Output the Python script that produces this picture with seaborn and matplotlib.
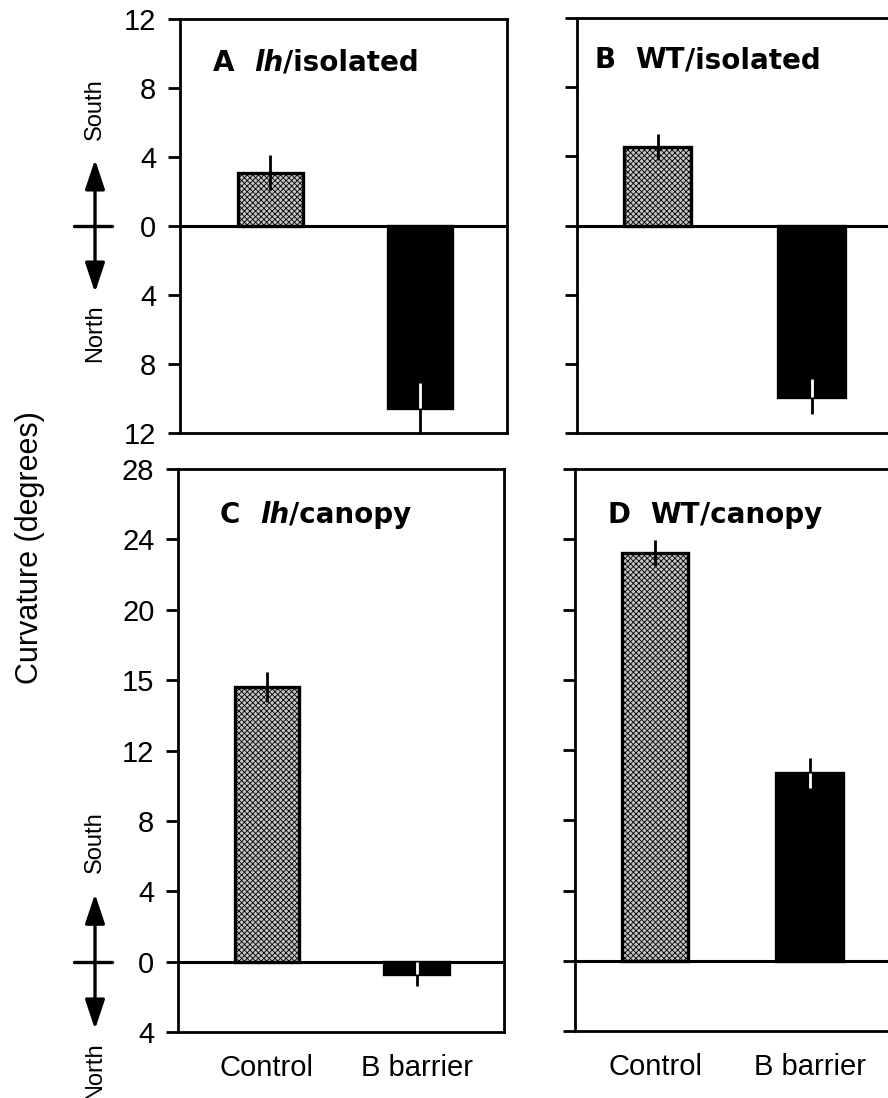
import numpy as np
import pandas as pd
import matplotlib
matplotlib.use("Agg")
import matplotlib.pyplot as plt
import matplotlib.transforms as mtransforms
import seaborn as sns

# ---------------- data ----------------
categories = ["Control", "B barrier"]
panel_letters = ["A", "B", "C", "D"]
panel_genotypes = ["lh", "WT", "lh", "WT"]
panel_italic = [True, False, True, False]
panel_conditions = ["/isolated", "/isolated", "/canopy", "/canopy"]

a_means = [3.1, -10.55]
a_errs = [1.0, 1.45]
b_means = [4.55, -9.9]
b_errs = [0.75, 1.0]
c_means = [15.6, -0.7]
c_errs = [0.85, 0.7]
d_means = [23.2, 10.7]
d_errs = [0.75, 0.85]

top_ticks = [-12, -8, -4, 0, 4, 8, 12]
top_ticklabels = ["12", "8", "4", "0", "4", "8", "12"]
bottom_ticks = [-4, 0, 4, 8, 12, 16, 20, 24, 28]
bottom_ticklabels = ["4", "0", "4", "8", "12", "15", "20", "24", "28"]

ylabel_text = "Curvature (degrees)"
south_label = "South"
north_label = "North"

# ---------------- style ----------------
sns.set_style("ticks")
plt.rcParams["font.family"] = ["Liberation Sans", "DejaVu Sans"]
plt.rcParams["hatch.linewidth"] = 0.6
plt.rcParams["axes.linewidth"] = 2.0
plt.rcParams["text.color"] = "black"
plt.rcParams["axes.labelcolor"] = "black"
plt.rcParams["xtick.color"] = "black"
plt.rcParams["ytick.color"] = "black"
plt.rcParams["axes.edgecolor"] = "black"

W, H = 888, 1098
fig = plt.figure(figsize=(W / 100, H / 100), dpi=100)
fig.patch.set_facecolor("white")


def pos(l, t, r, b):
    return [l / W, 1 - b / H, (r - l) / W, (b - t) / H]


axes_pos = [pos(180, 19, 507, 433), pos(577, 18, 904, 433),
            pos(178, 469, 504, 1032), pos(575, 469, 902, 1031)]
xlims = [(-0.605, 1.582), (-0.523, 1.60), (-0.595, 1.585), (-0.518, 1.598)]
title_xy = [(0.10, 0.86), (0.055, 0.865), (0.129, 0.893), (0.10, 0.893)]

means_list = [a_means, b_means, c_means, d_means]
errs_list = [a_errs, b_errs, c_errs, d_errs]

CTRL_COLOR = "#c4c4c4"

for i in range(4):
    ax = fig.add_axes(axes_pos[i])
    means = means_list[i]
    errs = errs_list[i]
    df = pd.DataFrame({"cat": categories, "val": means})
    sns.barplot(data=df, x="cat", y="val", hue="cat", order=categories,
                hue_order=categories, palette=[CTRL_COLOR, "black"],
                legend=False, width=0.43, edgecolor="black", linewidth=2.4,
                errorbar=None, ax=ax, zorder=2)
    # stipple on control bar
    ax.patches[0].set_hatch("xxxxxx")

    ax.axhline(0, color="black", lw=2.2, zorder=1)

    xs = np.arange(len(categories))
    ax.errorbar(xs, means, yerr=errs, fmt="none", ecolor="black",
                elinewidth=2.0, capsize=0, zorder=3)
    # white portion of the error line inside the black bar
    m = means[1]
    e = errs[1]
    ax.vlines(xs[1], m, m - np.sign(m) * e, color="white", lw=2.0, zorder=4)

    top_row = i < 2
    left_col = i % 2 == 0
    if top_row:
        ax.set_ylim(-12, 12)
        ax.set_yticks(top_ticks)
        ax.set_yticklabels(top_ticklabels)
    else:
        ax.set_ylim(-4, 28)
        ax.set_yticks(bottom_ticks)
        ax.set_yticklabels(bottom_ticklabels)
    ax.set_xlim(*xlims[i])

    for s in ax.spines.values():
        s.set_visible(True)
        s.set_linewidth(2.0)
        s.set_color("black")

    ax.tick_params(axis="y", direction="out", length=9, width=2.0, pad=8,
                   labelsize=21, labelleft=left_col, colors="black")
    ax.tick_params(axis="x", length=0, pad=16, labelsize=21,
                   labelbottom=not top_row, colors="black")
    ax.set_xlabel("")
    ax.set_ylabel("")

    # panel title
    tx, ty = title_xy[i]
    t1 = ax.text(tx, ty, panel_letters[i], transform=ax.transAxes,
                 fontsize=20, fontweight="bold", family="DejaVu Sans",
                 color="black", ha="left", va="bottom")
    t2 = ax.annotate(panel_genotypes[i], xy=(1, 0), xycoords=t1,
                     xytext=(14, 0), textcoords="offset points",
                     fontsize=20, fontweight="bold", family="DejaVu Sans",
                     style="italic" if panel_italic[i] else "normal",
                     color="black", ha="left", va="bottom")
    ax.annotate(panel_conditions[i], xy=(1, 0), xycoords=t2,
                xytext=(0, 0), textcoords="offset points",
                fontsize=20, fontweight="bold", family="DejaVu Sans",
                color="black", ha="left", va="bottom")

    # South / North arrows on left column
    if left_col:
        trans = mtransforms.blended_transform_factory(fig.transFigure, ax.transData)
        xa = 95 / W
        for yy in (3.85, -3.85):
            ax.annotate("", xy=(xa, yy), xytext=(xa, 0), xycoords=trans,
                        textcoords=trans, annotation_clip=False,
                        arrowprops=dict(arrowstyle="-|>,head_length=1.8,head_width=0.6",
                                        mutation_scale=10, lw=2.4, color="black",
                                        shrinkA=0, shrinkB=0))
        ax.plot([74 / W, 112 / W], [0, 0], transform=trans, color="black",
                lw=2.4, clip_on=False)
        ax.text(xa, 6.8, south_label, transform=trans, rotation=90,
                ha="center", va="center", fontsize=17, color="black")
        ax.text(xa, -6.2, north_label, transform=trans, rotation=90,
                ha="center", va="center", fontsize=17, color="black")
        if top_row:
            ax.set_ylim(-12, 12)
        else:
            ax.set_ylim(-4, 28)
        ax.set_xlim(*xlims[i])

fig.text(30 / W, 1 - 548 / H, ylabel_text, rotation=90, ha="center",
         va="center", fontsize=22, color="black")

fig.savefig("out.png", dpi=100, facecolor="white")
